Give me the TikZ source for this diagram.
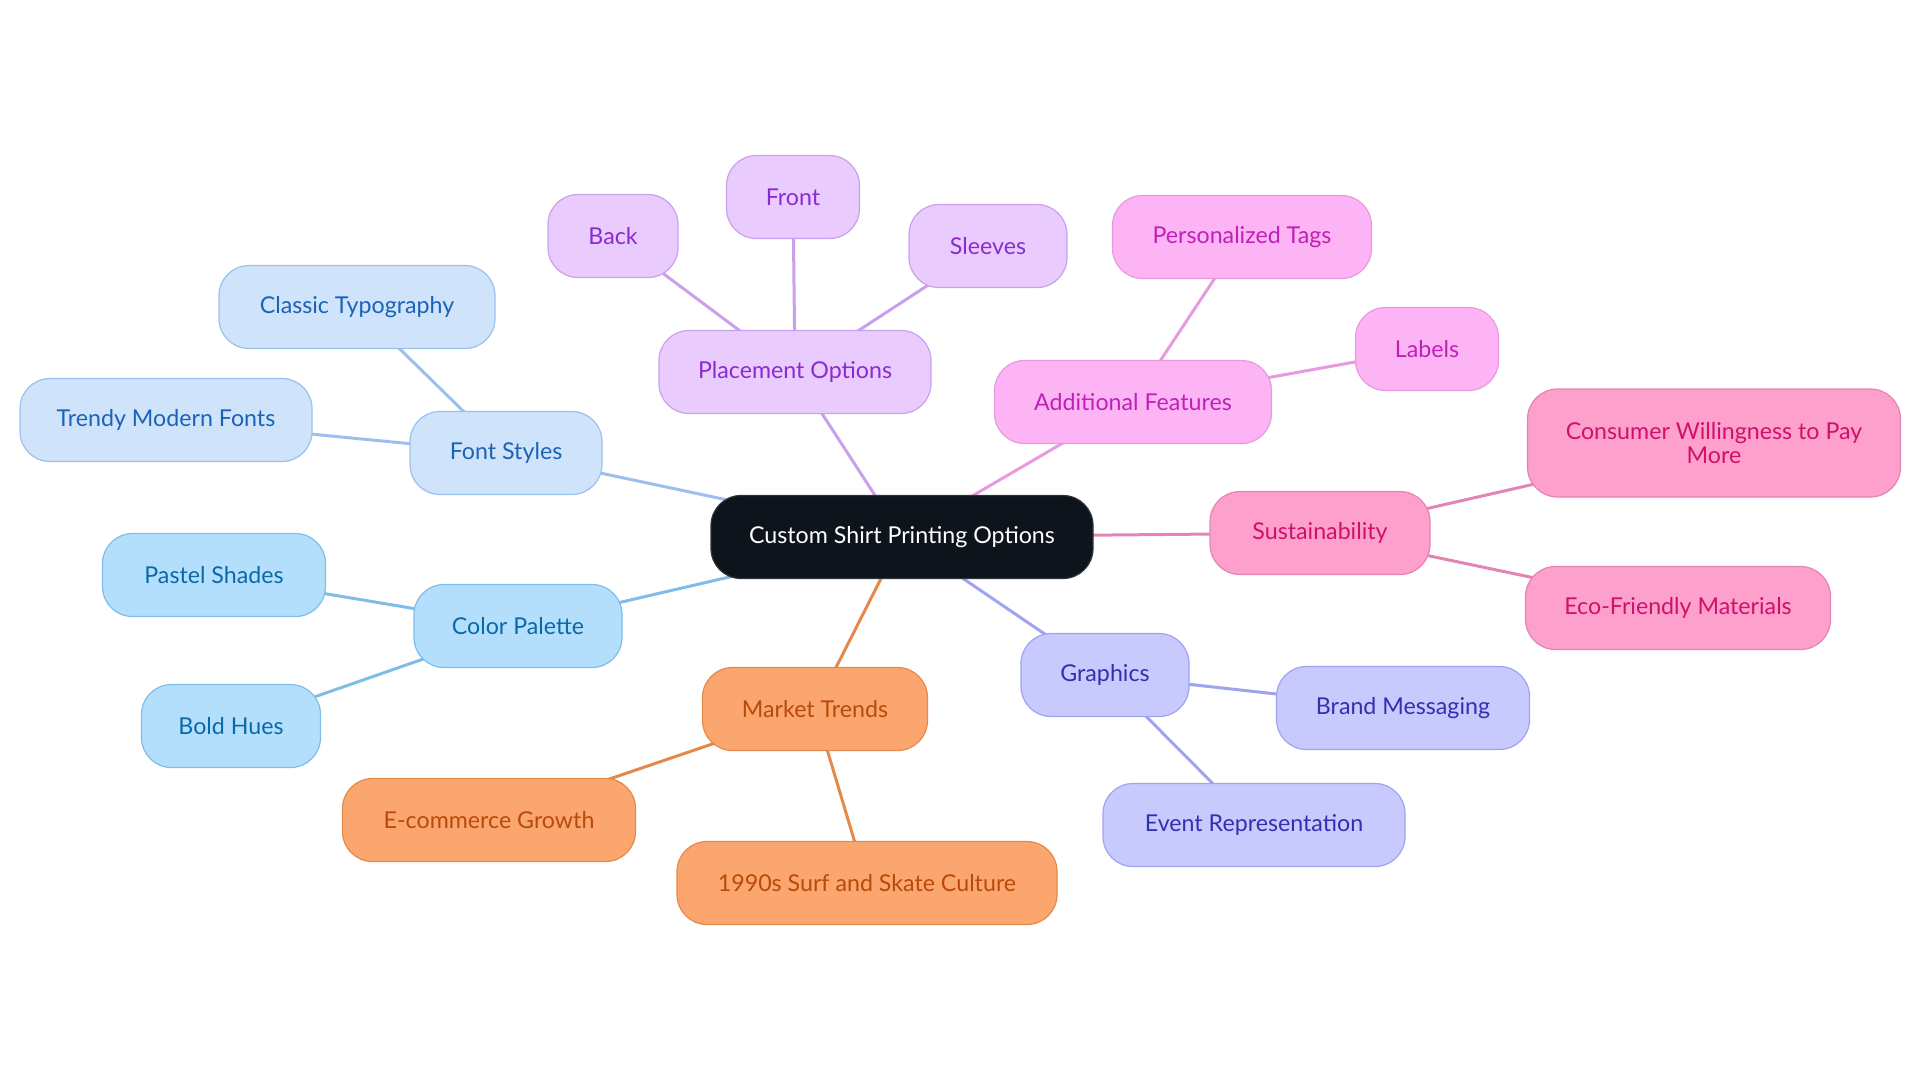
\documentclass[tikz,border=0pt]{standalone}
\usepackage{fontspec}
\setmainfont{Lato}
\usetikzlibrary{backgrounds}
\definecolor{rootfill}{HTML}{0D141C}
\definecolor{fsfill}{HTML}{CFE3FB}\definecolor{fsdraw}{HTML}{9CC0EC}\definecolor{fstext}{HTML}{1A63B8}
\definecolor{cpfill}{HTML}{B3DFFD}\definecolor{cpdraw}{HTML}{7FBDE8}\definecolor{cptext}{HTML}{0A6AA8}
\definecolor{plfill}{HTML}{E9CCFD}\definecolor{pldraw}{HTML}{C9A0EC}\definecolor{pltext}{HTML}{8A2BD0}
\definecolor{affill}{HTML}{FDB4F4}\definecolor{afdraw}{HTML}{E89AE0}\definecolor{aftext}{HTML}{C020B8}
\definecolor{sufill}{HTML}{FDA0CB}\definecolor{sudraw}{HTML}{E385B4}\definecolor{sutext}{HTML}{D0106B}
\definecolor{grfill}{HTML}{C8CAFD}\definecolor{grdraw}{HTML}{A0A3F0}\definecolor{grtext}{HTML}{3030B0}
\definecolor{mtfill}{HTML}{FCA66F}\definecolor{mtdraw}{HTML}{E5894A}\definecolor{mttext}{HTML}{B84A0A}
\tikzset{
  box/.style={rounded corners=15pt, line width=0.6pt, minimum height=41.5pt, align=center,
    font=\fontsize{11.6}{12.3}\selectfont, inner sep=0pt},
  fsbox/.style={box, fill=fsfill, draw=fsdraw, text=fstext},
  cpbox/.style={box, fill=cpfill, draw=cpdraw, text=cptext},
  plbox/.style={box, fill=plfill, draw=pldraw, text=pltext},
  afbox/.style={box, fill=affill, draw=afdraw, text=aftext},
  subox/.style={box, fill=sufill, draw=sudraw, text=sutext},
  grbox/.style={box, fill=grfill, draw=grdraw, text=grtext},
  mtbox/.style={box, fill=mtfill, draw=mtdraw, text=mttext},
  link/.style={line width=1.5pt},
}
\begin{document}
\begin{tikzpicture}[x=0.5pt,y=-0.5pt]
\useasboundingbox (0,0) rectangle (1920,1083);
\node[box, fill=rootfill, draw=rootfill!70!gray, text=white, minimum width=191pt] (root) at (902,537) {Custom Shirt Printing Options};
% Font Styles
\node[fsbox, minimum width=96pt] (fs) at (506,453) {Font Styles};
\node[fsbox, minimum width=138pt] (ct) at (357,307) {Classic Typography};
\node[fsbox, minimum width=146pt] (tm) at (166,420) {Trendy Modern Fonts};
% Color Palette
\node[cpbox, minimum width=104pt] (cp) at (518,626) {Color Palette};
\node[cpbox, minimum width=111.5pt] (ps) at (214,575) {Pastel Shades};
\node[cpbox, minimum width=89.5pt] (bh) at (231,726) {Bold Hues};
% Placement
\node[plbox, minimum width=136pt] (pl) at (795,372) {Placement Options};
\node[plbox, minimum width=65pt] (back) at (613,236) {Back};
\node[plbox, minimum width=66.5pt] (front) at (793,197) {Front};
\node[plbox, minimum width=79pt] (sleeves) at (988,246) {Sleeves};
% Additional features
\node[afbox, minimum width=138.5pt] (af) at (1133,402) {Additional Features};
\node[afbox, minimum width=129.5pt] (pt) at (1242,237) {Personalized Tags};
\node[afbox, minimum width=71.5pt] (lab) at (1427,349) {Labels};
% Sustainability
\node[subox, minimum width=110pt] (su) at (1320,533) {Sustainability};
\node[subox, minimum width=186.5pt, minimum height=54pt] (cw) at (1714,443) {Consumer Willingness to Pay\\More};
\node[subox, minimum width=152.5pt] (eco) at (1678,608) {Eco-Friendly Materials};
% Graphics
\node[grbox, minimum width=84pt] (gr) at (1105,675) {Graphics};
\node[grbox, minimum width=126.5pt] (bm) at (1403,708) {Brand Messaging};
\node[grbox, minimum width=151pt] (er) at (1254,825) {Event Representation};
% Market Trends
\node[mtbox, minimum width=112.5pt] (mt) at (815,709) {Market Trends};
\node[mtbox, minimum width=190pt] (sk) at (867,883) {1990s Surf and Skate Culture};
\node[mtbox, minimum width=146.5pt] (ec) at (489,820) {E-commerce Growth};
\begin{pgfonlayer}{background}
\draw[link, fsdraw] (root.center) -- (fs.center);
\draw[link, fsdraw] (fs.center) -- (ct.center);
\draw[link, fsdraw] (fs.center) -- (tm.center);
\draw[link, cpdraw] (root.center) -- (cp.center);
\draw[link, cpdraw] (cp.center) -- (ps.center);
\draw[link, cpdraw] (cp.center) -- (bh.center);
\draw[link, pldraw] (root.center) -- (pl.center);
\draw[link, pldraw] (pl.center) -- (back.center);
\draw[link, pldraw] (pl.center) -- (front.center);
\draw[link, pldraw] (pl.center) -- (sleeves.center);
\draw[link, afdraw] (root.center) -- (af.center);
\draw[link, afdraw] (af.center) -- (pt.center);
\draw[link, afdraw] (af.center) -- (lab.center);
\draw[link, sudraw] (root.center) -- (su.center);
\draw[link, sudraw] (su.center) -- (cw.center);
\draw[link, sudraw] (su.center) -- (eco.center);
\draw[link, grdraw] (root.center) -- (gr.center);
\draw[link, grdraw] (gr.center) -- (bm.center);
\draw[link, grdraw] (gr.center) -- (er.center);
\draw[link, mtdraw] (root.center) -- (mt.center);
\draw[link, mtdraw] (mt.center) -- (sk.center);
\draw[link, mtdraw] (mt.center) -- (ec.center);
\end{pgfonlayer}
\end{tikzpicture}
\end{document}
